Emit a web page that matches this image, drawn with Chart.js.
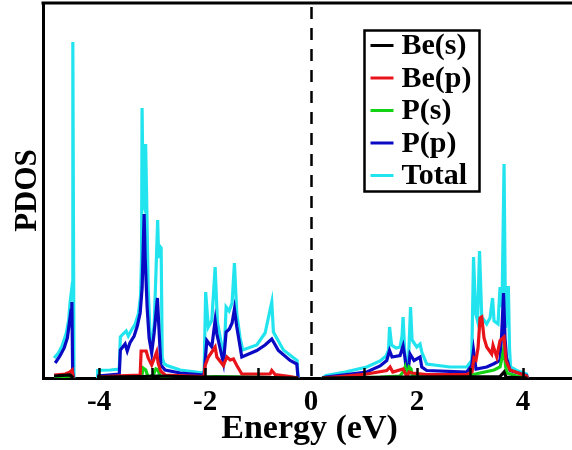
<!DOCTYPE html>
<html>
<head>
<meta charset="utf-8">
<script src="https://cdn.jsdelivr.net/npm/chart.js@4.4.1/dist/chart.umd.min.js"></script>
<style>
  html, body { margin: 0; padding: 0; background: #ffffff; overflow: hidden; }
  #wrap { position: absolute; left: 0; top: 0; width: 585px; height: 450px; }
</style>
</head>
<body>
<div id="wrap"><canvas id="pdos" width="585" height="450"></canvas></div>
<script>
// Projected density of states of BeP, energies in eV relative to E_F.
// Each series is a list of [energy, PDOS]; null separates disjoint bands.

const seriesNames = ['Be(s)', 'Be(p)', 'P(s)', 'P(p)', 'Total'];
const xTickValues = [-4, -2, 0, 2, 4];

const beS = [
  [-4.85, 0.08], [-4.55, 0.12], [-4.49, 0], [-4.47, null],
  [-4.04, 0.04], [-3.2, 0.06], [-2.9, 0.08], [-2.02, 0.04], [-1.0, 0.03], [-0.245, 0], [0, null],
  [0.208, 0], [1.679, 0.04], [3.566, 0.06], [3.642, 0.24], [3.679, 0.04], [4.085, 0]
];

const beP = [
  [-4.85, 0.12], [-4.64, 0.16], [-4.55, 0.24], [-4.51, 0.32], [-4.49, 0], [-4.47, null],
  [-4.04, 0.04], [-3.72, 0.08], [-3.226, 0.12], [-3.208, 1.08], [-3.113, 1.08], [-3.075, 0.8],
  [-3.009, 0.52], [-2.915, 1.04], [-2.887, 0.6], [-2.84, 0.28], [-2.755, 0.12], [-2.02, 0.06],
  [-2.0, 0.5], [-1.938, 0.84], [-1.811, 1.24], [-1.779, 0.84], [-1.655, 0.5], [-1.59, 0.84],
  [-1.528, 0.72], [-1.466, 0.76], [-1.402, 0.5], [-1.308, 0.16], [-0.774, 0.16], [-0.742, 0.3],
  [-0.679, 0.14], [-0.396, 0.06], [-0.245, 0], [0, null],
  [0.208, 0], [0.547, 0.06], [1.051, 0.16], [1.428, 0.3], [1.491, 0.44], [1.542, 0.24],
  [1.736, 0.36], [1.774, 0.2], [1.811, 0.04], [1.849, 0.24], [1.906, 0.2], [2.183, 0.14],
  [2.938, 0.14], [3.038, 0.24], [3.075, 0.8], [3.113, 0.72], [3.151, 1.2], [3.189, 2.4],
  [3.221, 2.44], [3.264, 1.6], [3.315, 1.24], [3.409, 0.96], [3.434, 1.3], [3.504, 0.84],
  [3.566, 1.5], [3.642, 1.64], [3.679, 0.7], [3.755, 0.32], [4.066, 0.08], [4.085, 0]
];

const pS = [
  [-4.85, 0.04], [-4.51, 0.08], [-4.49, 0], [-4.47, null],
  [-4.04, 0.02], [-3.23, 0.04], [-3.19, 0.16], [-3.17, 0.4], [-3.12, 0.32], [-3.09, 0.12],
  [-3.06, 0.04], [-2.98, 0.12], [-2.93, 0.36], [-2.89, 0.32], [-2.85, 0.08], [-2.77, 0.04],
  [-2.02, 0.02], [-2.0, 0.04], [-1.8, 0.06], [-1.5, 0.05], [-1.0, 0.03], [-0.245, 0], [0, null],
  [0.208, 0], [1.302, 0.04], [1.679, 0.08], [1.736, 0.24], [1.774, 0.44], [1.802, 0.16],
  [1.821, 0.1], [1.849, 0.44], [1.887, 0.36], [1.906, 0.12], [2.057, 0.08], [2.938, 0.08],
  [3.189, 0.2], [3.453, 0.32], [3.566, 0.44], [3.604, 0.8], [3.642, 1.24], [3.67, 0.48],
  [3.698, 0.2], [3.881, 0.08], [4.085, 0]
];

const pP = [
  [-4.83, 0.6], [-4.74, 0.88], [-4.66, 1.2], [-4.60, 1.6], [-4.57, 2.08], [-4.53, 2.72],
  [-4.515, 3.04], [-4.50, 0.2], [-4.48, 0], [-4.47, null],
  [-4.04, 0.08], [-3.62, 0.16], [-3.60, 1.12], [-3.57, 1.2], [-3.51, 1.36], [-3.47, 1.08],
  [-3.42, 1.4], [-3.34, 1.68], [-3.28, 2.08], [-3.226, 2.6], [-3.189, 3.6], [-3.151, 6.56],
  [-3.132, 4.8], [-3.094, 2.8], [-3.057, 1.6], [-3.009, 1.0], [-2.962, 1.8], [-2.90, 3.2],
  [-2.877, 2.2], [-2.836, 0.52], [-2.755, 0.32], [-2.47, 0.2], [-2.02, 0.12],
  [-1.968, 1.5], [-1.874, 1.24], [-1.811, 2.3], [-1.779, 1.76], [-1.655, 0.6], [-1.604, 1.84],
  [-1.542, 1.96], [-1.491, 2.2], [-1.447, 2.76], [-1.402, 2.04], [-1.308, 0.84], [-1.025, 1.1],
  [-0.868, 1.32], [-0.742, 1.56], [-0.617, 1.1], [-0.396, 0.7], [-0.27, 0.56], [-0.245, 0], [0, null],
  [0.208, 0], [0.283, 0.04], [1.051, 0.24], [1.302, 0.48], [1.428, 0.7], [1.481, 1.1],
  [1.528, 0.84], [1.679, 0.9], [1.736, 1.28], [1.774, 0.8], [1.811, 0.04], [1.849, 0.6],
  [1.868, 0.96], [1.943, 0.7], [2.057, 0.84], [2.089, 0.44], [2.183, 0.3], [2.938, 0.24],
  [3.032, 0.5], [3.066, 1.1], [3.113, 0.36], [3.315, 0.44], [3.44, 0.56], [3.566, 0.7],
  [3.598, 1.8], [3.632, 3.4], [3.66, 1.6], [3.689, 0.8], [3.755, 0.3], [4.066, 0.1], [4.085, 0]
];

const total = [
  [-4.85, 0.8], [-4.77, 1.0], [-4.70, 1.28], [-4.62, 1.8], [-4.575, 2.32], [-4.55, 3.0],
  [-4.52, 3.52], [-4.505, 3.8], [-4.497, 13.44], [-4.475, 0], [-4.47, null],
  [-4.04, 0], [-4.03, 0.3], [-3.79, 0.32], [-3.62, 0.36], [-3.60, 1.64], [-3.55, 1.76],
  [-3.49, 1.88], [-3.45, 1.68], [-3.40, 1.88], [-3.32, 2.16], [-3.26, 2.56], [-3.22, 3.24],
  [-3.20, 4.8], [-3.19, 10.8], [-3.17, 7.0], [-3.142, 6.8], [-3.123, 9.36], [-3.104, 7.2],
  [-3.075, 3.6], [-3.04, 1.8], [-3.00, 1.3], [-2.96, 2.2], [-2.925, 4.4], [-2.896, 6.32],
  [-2.877, 4.8], [-2.858, 5.28], [-2.83, 5.2], [-2.81, 0.8], [-2.77, 0.56], [-2.72, 0.5],
  [-2.47, 0.32], [-2.02, 0.2],
  [-1.99, 3.44], [-1.94, 2.04], [-1.874, 2.3], [-1.811, 4.44], [-1.768, 2.24], [-1.68, 1.2],
  [-1.642, 0.88], [-1.604, 2.84], [-1.547, 2.68], [-1.491, 3.0], [-1.447, 4.6], [-1.402, 2.56],
  [-1.34, 1.6], [-1.289, 1.12], [-1.025, 1.32], [-0.868, 1.8], [-0.742, 3.04], [-0.711, 1.84],
  [-0.523, 1.12], [-0.264, 0.7], [-0.245, 0], [0, null],
  [0.208, 0], [0.283, 0.1], [0.642, 0.24], [1.051, 0.44], [1.302, 0.68], [1.415, 0.88],
  [1.462, 1.12], [1.481, 2.04], [1.519, 1.32], [1.604, 1.2], [1.679, 1.24], [1.717, 1.68],
  [1.736, 2.44], [1.764, 1.2], [1.792, 0.24], [1.811, 0.04], [1.83, 0.2], [1.877, 2.84],
  [1.906, 1.52], [1.994, 1.24], [2.057, 1.36], [2.089, 1.04], [2.183, 0.56], [2.623, 0.44],
  [2.938, 0.44], [3.032, 0.7], [3.066, 4.84], [3.104, 2.6], [3.142, 2.28], [3.179, 5.08],
  [3.221, 2.44], [3.315, 2.16], [3.377, 2.4], [3.425, 3.2], [3.453, 2.28], [3.528, 2.16],
  [3.566, 3.64], [3.604, 2.84], [3.642, 8.56], [3.67, 2.0], [3.698, 3.0], [3.723, 3.68],
  [3.745, 1.2], [3.764, 0.44], [3.881, 0.3], [4.066, 0.16], [4.085, 0]
];

const seriesData = [beS, beP, pS, pP, total];
const seriesColors = ['#000000', '#e8141a', '#14d214', '#0a0ac4', '#22e4ee'];
// drawn back to front: Total underneath, Be(s) on top
const drawOrder = [1, 2, 3, 4, 5];

const SERIF = '"Liberation Serif", "Times New Roman", serif';

const toPoints = arr => arr.map(([x, y]) => ({ x, y }));

// frame, inner ticks and the Fermi-level marker
const decorations = {
  id: 'decorations',
  afterDatasetsDraw(chart) {
    const { ctx, chartArea: a, scales: { x } } = chart;
    ctx.save();
    // dashed line at E_F
    const x0 = Math.round(x.getPixelForValue(0)) + 0.5;
    ctx.strokeStyle = '#000';
    ctx.lineWidth = 2.5;
    ctx.setLineDash([12, 9]);
    ctx.lineDashOffset = -4;
    ctx.beginPath();
    ctx.moveTo(x0, a.top);
    ctx.lineTo(x0, a.bottom);
    ctx.stroke();
    ctx.setLineDash([]);
    // inward ticks at every integer energy
    ctx.lineWidth = 2.5;
    for (let e = -4; e <= 4; e++) {
      if (e === 0) continue;
      const px = Math.round(x.getPixelForValue(e)) + 0.5;
      ctx.beginPath();
      ctx.moveTo(px, a.bottom);
      ctx.lineTo(px, a.bottom - 10);
      ctx.stroke();
    }
    // top edge of the frame
    ctx.lineWidth = 3;
    ctx.beginPath();
    ctx.moveTo(a.left - 1.5, a.top);
    ctx.lineTo(a.right + 2, a.top);
    ctx.stroke();
    ctx.restore();
  }
};

// boxed legend inside the plot
const boxedLegend = {
  id: 'boxedLegend',
  afterDraw(chart) {
    const { ctx } = chart;
    const bx = 364.5, by = 30.5, bw = 115, bh = 161;
    ctx.save();
    ctx.fillStyle = '#fff';
    ctx.fillRect(bx, by, bw, bh);
    ctx.strokeStyle = '#000';
    ctx.lineWidth = 2.5;
    ctx.strokeRect(bx, by, bw, bh);
    ctx.font = 'bold 30px ' + SERIF;
    ctx.textBaseline = 'middle';
    ctx.textAlign = 'left';
    chart.data.datasets.forEach((ds, i) => {
      const y = by + 15 + i * 32.5;
      ctx.strokeStyle = ds.borderColor;
      ctx.lineWidth = 3;
      ctx.beginPath();
      ctx.moveTo(bx + 6, y);
      ctx.lineTo(bx + 29, y);
      ctx.stroke();
      ctx.fillStyle = '#000';
      ctx.fillText(ds.label, bx + 37, y + 1);
    });
    ctx.restore();
  }
};

new Chart(document.getElementById('pdos'), {
  type: 'line',
  data: {
    datasets: seriesNames.map((name, i) => ({
      label: name,
      data: toPoints(seriesData[i]),
      borderColor: seriesColors[i],
      backgroundColor: seriesColors[i],
      borderWidth: 3.2,
      pointRadius: 0,
      tension: 0,
      spanGaps: false,
      fill: false,
      order: drawOrder[i]
    }))
  },
  options: {
    responsive: false,
    animation: false,
    devicePixelRatio: 1,
    layout: { padding: { left: 0, right: 9, top: 3, bottom: 0 } },
    plugins: { legend: { display: false }, tooltip: { enabled: false } },
    scales: {
      x: {
        type: 'linear',
        min: -5.06,
        max: 5.0,
        afterBuildTicks: s => { s.ticks = xTickValues.map(v => ({ value: v })); },
        afterFit: s => { s.height = 72; },
        grid: { display: false, drawTicks: false },
        border: { display: true, color: '#000', width: 3 },
        ticks: {
          color: '#000',
          padding: 7,
          maxRotation: 0,
          font: { family: SERIF, size: 29, weight: 'bold' },
          callback: v => String(v)
        },
        title: {
          display: true,
          text: 'Energy (eV)',
          color: '#000',
          padding: { top: 0, bottom: 0 },
          font: { family: SERIF, size: 34, weight: 'bold' }
        }
      },
      y: {
        type: 'linear',
        min: 0,
        max: 15,
        afterFit: s => { s.width = 43; },
        grid: { display: false, drawTicks: false },
        border: { display: true, color: '#000', width: 3 },
        ticks: { display: false },
        title: {
          display: true,
          text: 'PDOS',
          color: '#000',
          padding: { top: 9, bottom: 0 },
          font: { family: SERIF, size: 31, weight: 'bold' }
        }
      }
    }
  },
  plugins: [decorations, boxedLegend]
});
</script>
</body>
</html>
